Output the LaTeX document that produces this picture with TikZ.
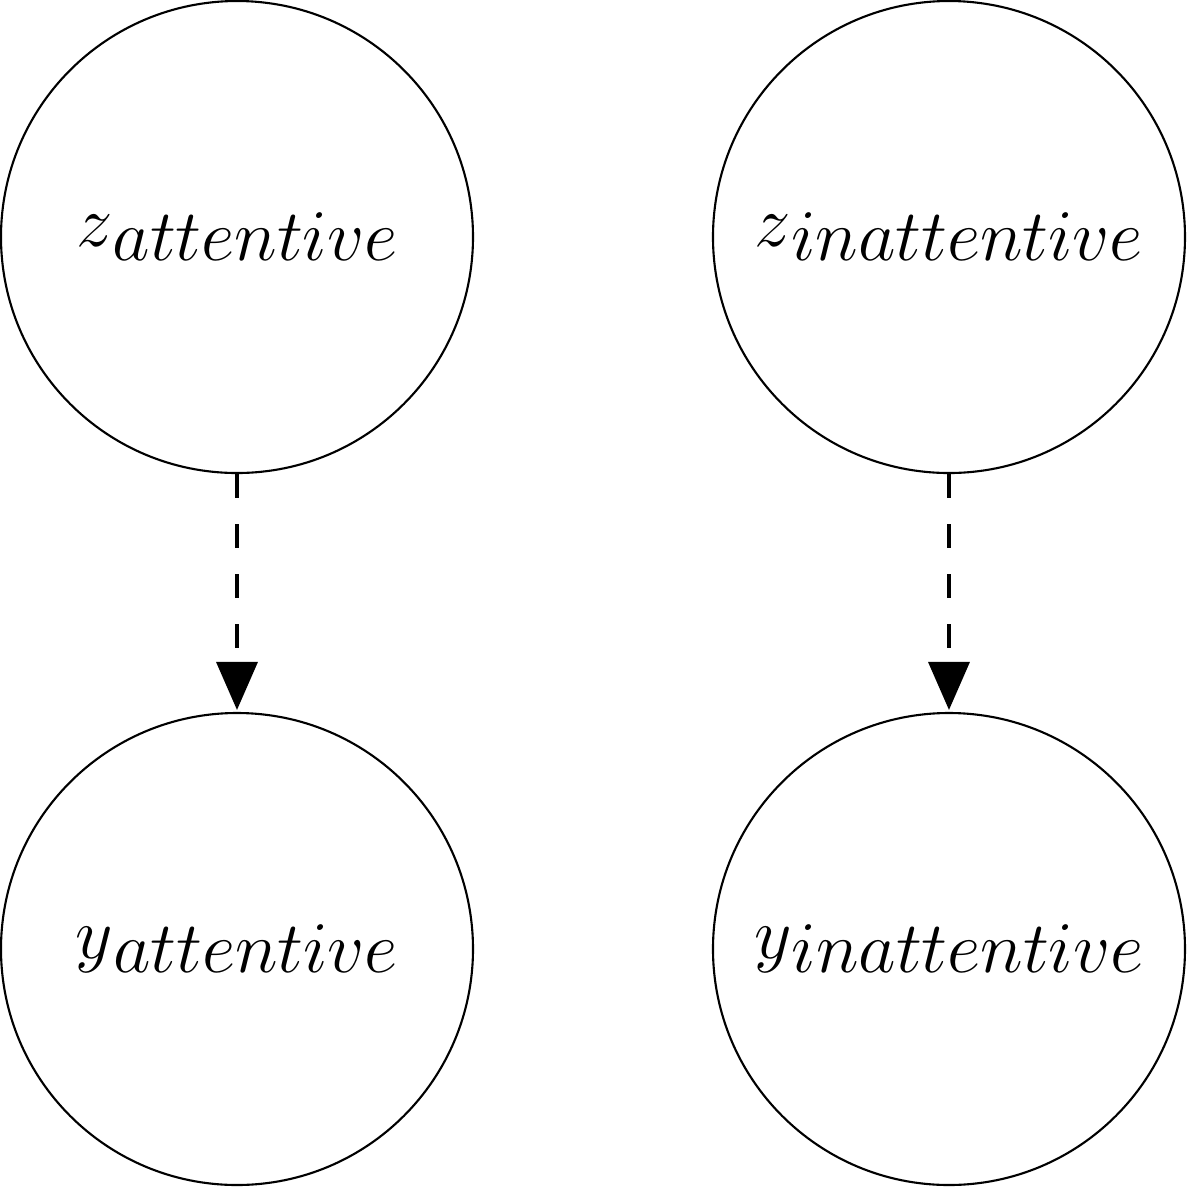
\documentclass[tikz,border=0pt]{standalone}
\usetikzlibrary{arrows.meta}
\newcommand{\lowsub}[2]{$#1\lower0.19em\hbox{$#2$}$}
\begin{document}
\begin{tikzpicture}[
  var/.style={circle, draw, line width=0.6pt, minimum size=4.72cm, inner sep=0pt,
    font=\fontsize{21.3}{24}\selectfont},
  dep/.style={dashed, dash pattern=on 0.24cm off 0.26cm, line width=1pt,
    -{Triangle[length=0.48cm, width=0.41cm]}, shorten >=0.02cm}
]
\useasboundingbox (0,0) rectangle (11.88,-11.88);
\node[var] (za) at (2.37,-2.37) {\lowsub{z}{attentive}};
\node[var] (zi) at (9.49,-2.37) {\lowsub{z}{inattentive}};
\node[var] (ya) at (2.37,-9.49) {\lowsub{y}{attentive}};
\node[var] (yi) at (9.49,-9.49) {\lowsub{y}{inattentive}};
\draw[dep] (za) -- (ya);
\draw[dep] (zi) -- (yi);
\end{tikzpicture}
\end{document}
